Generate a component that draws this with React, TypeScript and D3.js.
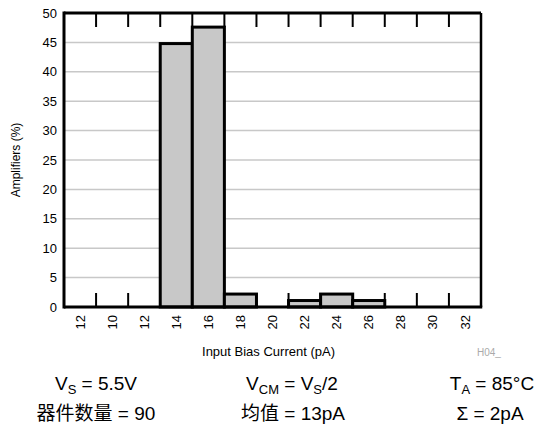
import React from 'react';
import * as d3 from 'd3';

// histogram bins (labels as printed on the chart) and share of amplifiers (%)
const binLabels = ['12', '10', '12', '14', '16', '18', '20', '22', '24', '26', '28', '30', '32'];
const amplifiers = [0, 0, 0, 44.8, 47.6, 2.2, 0, 1.1, 2.2, 1.1, 0, 0, 0];
const yTicks = [0, 5, 10, 15, 20, 25, 30, 35, 40, 45, 50];

const W = 545, H = 432;
const margin = { top: 13, right: 64, bottom: 125, left: 64 };
const font = '"Liberation Sans", Arial, sans-serif';
const cjk = '"Liberation Sans", "Noto Sans CJK SC", sans-serif';

export default function App() {
  const w = W - margin.left - margin.right;
  const h = H - margin.top - margin.bottom;

  const x = d3.scaleBand<number>().domain(d3.range(binLabels.length)).range([0, w]).padding(0);
  const y = d3.scaleLinear().domain([0, 50]).range([h, 0]);
  const bw = x.bandwidth();
  const bounds = d3.range(1, binLabels.length).map(i => i * bw);

  const sub = (t: string) => <tspan fontSize={13} dy={4}>{t}</tspan>;
  const rest = (t: string) => <tspan dy={-4}>{t}</tspan>;

  return (
    <svg width={W} height={H} style={{ position: 'absolute', left: 0, top: 0, background: '#fff' }}>
      <g transform={`translate(${margin.left},${margin.top})`}>
        {yTicks.filter(t => t > 0 && t < 50).map(t => (
          <line key={t} x1={0} x2={w} y1={y(t)} y2={y(t)} stroke="#c8c8c8" strokeWidth={1.5} />
        ))}
        {bounds.map((b, i) => (
          <g key={i}>
            <line x1={b} x2={b} y1={0} y2={14} stroke="#000" strokeWidth={2} />
            <line x1={b} x2={b} y1={h} y2={h - 14} stroke="#000" strokeWidth={2} />
          </g>
        ))}
        {amplifiers.map((v, i) => v > 0 && (
          <rect key={i} x={x(i)} y={y(v)} width={bw} height={h - y(v)}
            fill="#c8c8c8" stroke="#000" strokeWidth={3} />
        ))}
        <line x1={w} x2={w} y1={0} y2={h} stroke="#000" strokeWidth={2.5} />
        <line x1={0} x2={w} y1={0} y2={0} stroke="#000" strokeWidth={3} />
        <line x1={0} x2={w + 1.25} y1={h} y2={h} stroke="#000" strokeWidth={3} />
        <line x1={0} x2={0} y1={-1.5} y2={h + 1.5} stroke="#000" strokeWidth={3} />
        {yTicks.map(t => (
          <text key={t} x={-7} y={y(t)} dy="0.35em" textAnchor="end" fontFamily={font} fontSize={13}>{t}</text>
        ))}
        {binLabels.map((l, i) => (
          <text key={i} transform={`translate(${(x(i) ?? 0) + bw / 2},${h + 8}) rotate(-90)`}
            textAnchor="end" dy="0.35em" fontFamily={font} fontSize={13}>{l}</text>
        ))}
        <text transform={`translate(-44,${h / 2}) rotate(-90)`} textAnchor="middle"
          fontFamily={font} fontSize={12}>Amplifiers (%)</text>
        <text x={w / 2 - 4} y={h + 49} textAnchor="middle" fontFamily={font} fontSize={13}>Input Bias Current (pA)</text>
        <text x={413} y={h + 49} fontFamily={font} fontSize={10} fill="#aaa">H04_</text>
      </g>
      <g fontFamily={font} fontSize={19} textAnchor="middle">
        <text x={96} y={390}>V{sub('S')}{rest(' = 5.5V')}</text>
        <text x={292} y={390}>V{sub('CM')}{rest(' = V')}{sub('S')}{rest('/2')}</text>
        <text x={492} y={390}>T{sub('A')}{rest(' = 85°C')}</text>
        <text x={96} y={420} fontFamily={cjk}>器件数量 = 90</text>
        <text x={293} y={420} fontFamily={cjk}>均值 = 13pA</text>
        <text x={490} y={420} fontFamily={cjk}>Σ = 2pA</text>
      </g>
    </svg>
  );
}
